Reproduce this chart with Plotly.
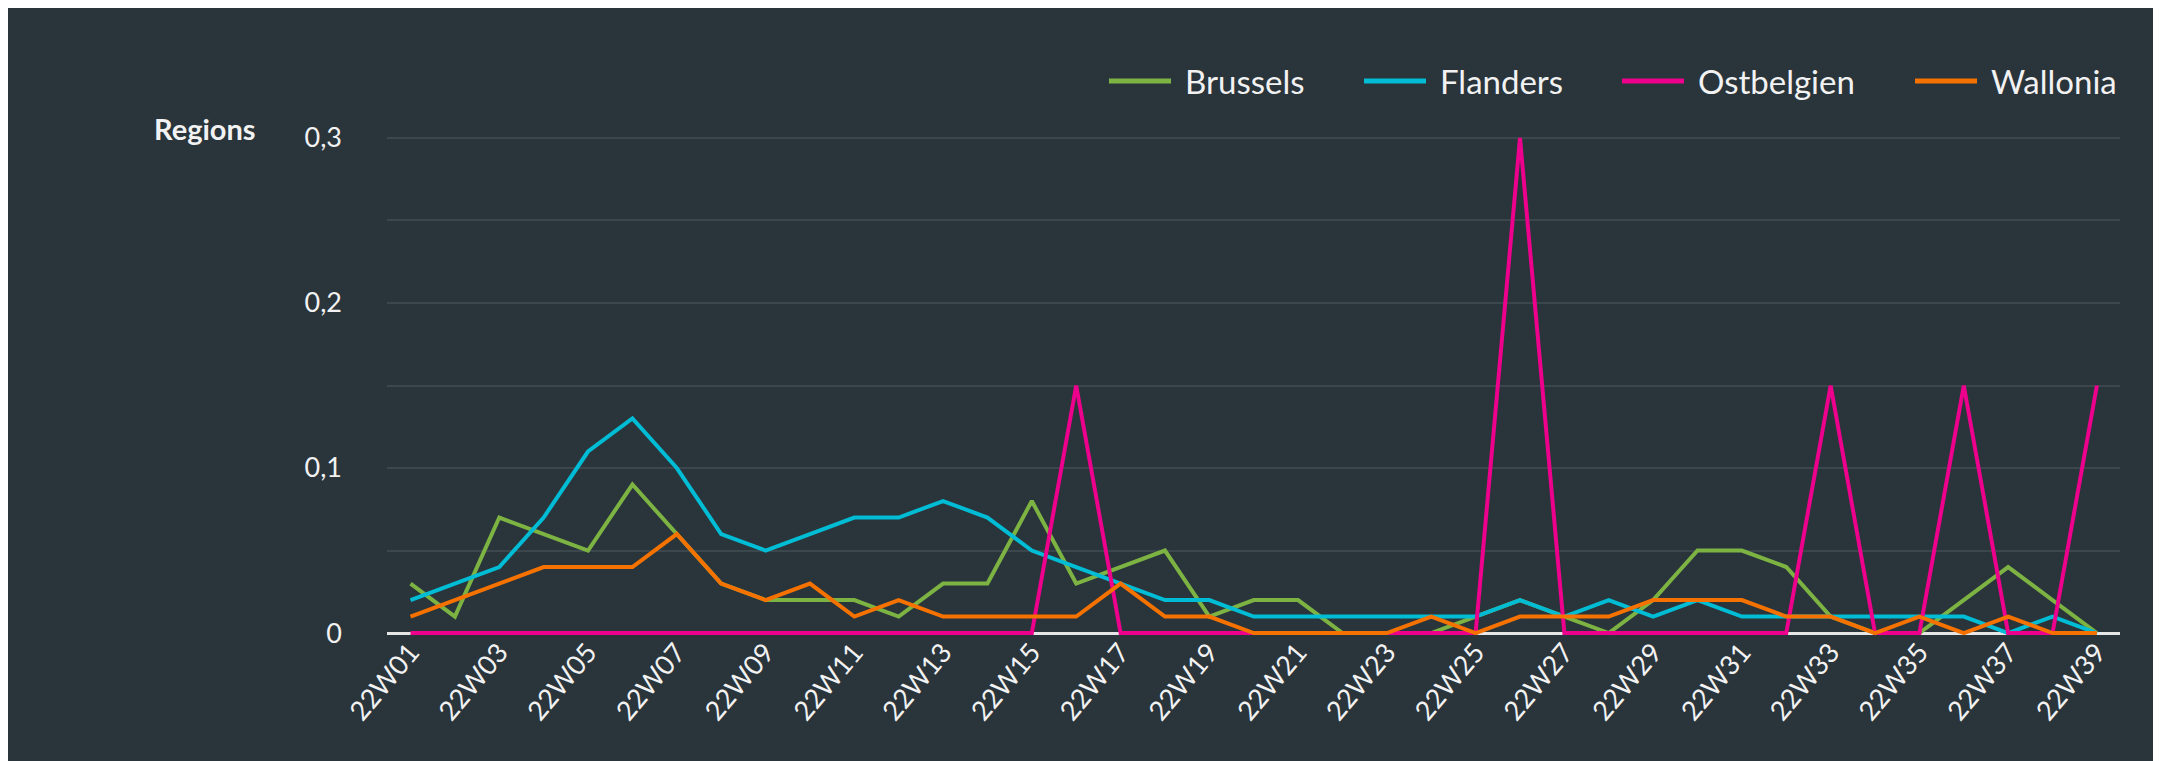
import plotly.graph_objects as go

weeks = [f"22W{i:02d}" for i in range(1, 40)]

brussels = [0.03, 0.01, 0.07, 0.06, 0.05, 0.09, 0.06, 0.03, 0.02, 0.02,
            0.02, 0.01, 0.03, 0.03, 0.08, 0.03, 0.04, 0.05, 0.01, 0.02,
            0.02, 0.00, 0.00, 0.00, 0.01, 0.02, 0.01, 0.00, 0.02, 0.05,
            0.05, 0.04, 0.01, 0.00, 0.00, 0.02, 0.04, 0.02, 0.00]
flanders = [0.02, 0.03, 0.04, 0.07, 0.11, 0.13, 0.10, 0.06, 0.05, 0.06,
            0.07, 0.07, 0.08, 0.07, 0.05, 0.04, 0.03, 0.02, 0.02, 0.01,
            0.01, 0.01, 0.01, 0.01, 0.01, 0.02, 0.01, 0.02, 0.01, 0.02,
            0.01, 0.01, 0.01, 0.01, 0.01, 0.01, 0.00, 0.01, 0.00]
ostbelgien = [0.0] * 15 + [0.15] + [0.0] * 9 + [0.30] + [0.0] * 6 + [0.15, 0.0, 0.0, 0.15, 0.0, 0.0, 0.15]
wallonia = [0.01, 0.02, 0.03, 0.04, 0.04, 0.04, 0.06, 0.03, 0.02, 0.03,
            0.01, 0.02, 0.01, 0.01, 0.01, 0.01, 0.03, 0.01, 0.01, 0.00,
            0.00, 0.00, 0.00, 0.01, 0.00, 0.01, 0.01, 0.01, 0.02, 0.02,
            0.02, 0.01, 0.01, 0.00, 0.01, 0.00, 0.01, 0.00, 0.00]

names = ["Brussels", "Flanders", "Ostbelgien", "Wallonia"]
colors = ["#7cb342", "#00bcd4", "#ec008c", "#f57200"]
values = [brussels, flanders, ostbelgien, wallonia]

BG = "#29343b"
GRID = "#3b464d"
TXT = "#f2f2f2"
FONT = "Lato"

W, H = 2161, 761
ML, MR, MT, MB = 379, 49, 125, 131
PW, PH = W - ML - MR, H - MT - MB


def px(x):
    return (x - ML) / PW


def py(y):
    return (H - MB - y) / PH


fig = go.Figure()
for name, vals, col in zip(names, values, colors):
    fig.add_trace(go.Scatter(x=weeks, y=vals, name=name, mode="lines",
                             line=dict(color=col, width=4)))

# custom legend (long line swatches, as in the original)
legend_line_x = [1101, 1356, 1614, 1907]
legend_y = 73
shapes = []
annotations = []
for name, col, lx in zip(names, colors, legend_line_x):
    shapes.append(dict(type="line", xref="paper", yref="paper",
                       x0=px(lx), x1=px(lx + 62), y0=py(legend_y), y1=py(legend_y),
                       line=dict(color=col, width=5)))
    annotations.append(dict(text=name, xref="paper", yref="paper",
                            x=px(lx + 74), y=py(legend_y), xanchor="left", yanchor="middle",
                            showarrow=False, font=dict(family=FONT, size=33, color=TXT)))

annotations.append(dict(text="<b>Regions</b>", xref="paper", yref="paper",
                        x=px(197), y=py(120), xanchor="center", yanchor="middle",
                        showarrow=False, font=dict(family=FONT, size=29, color=TXT)))

fig.update_layout(
    width=W, height=H,
    paper_bgcolor=BG, plot_bgcolor=BG,
    margin=dict(l=ML, r=MR, t=MT, b=MB),
    separators=", ",
    font=dict(family=FONT, color=TXT, size=26),
    showlegend=False,
    xaxis=dict(type="category", range=[-0.53, 38.52], tickmode="array",
               tickvals=weeks[::2], ticktext=weeks[::2], tickangle=-50,
               showgrid=False, zeroline=False, showline=False, ticks="",
               ticklabelstandoff=-8,
               tickfont=dict(family=FONT, size=27, color=TXT)),
    yaxis=dict(range=[-0.003, 0.303], dtick=0.1, tick0=0,
               showgrid=True, gridcolor=GRID, gridwidth=1.5,
               minor=dict(dtick=0.05, showgrid=True, gridcolor=GRID, gridwidth=1.5),
               zeroline=True, zerolinecolor="#e6e6e6", zerolinewidth=3,
               showline=False, ticks="", ticklabelstandoff=44,
               tickfont=dict(family=FONT, size=27, color=TXT)),
    shapes=shapes,
    annotations=annotations,
)

fig.write_html("out.html")
